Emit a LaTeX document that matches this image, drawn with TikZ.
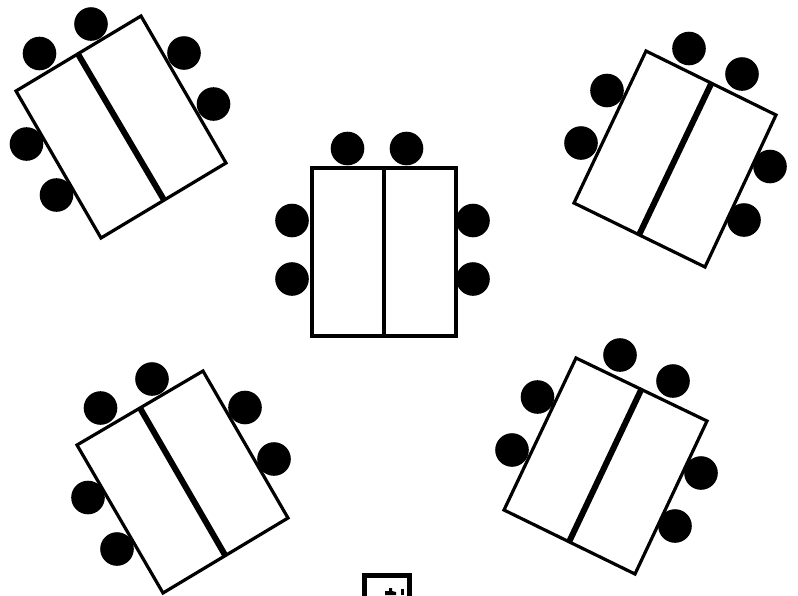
\documentclass[tikz,border=0pt]{standalone}
\tikzset{
  tbl/.style={draw=black,fill=white,line width=3.2pt,line join=miter},
  divthick/.style={draw=black,line width=6pt},
  divthin/.style={draw=black,line width=3.2pt},
  seat/.style={fill=black},
}
\begin{document}
\begin{tikzpicture}[x=1pt,y=-1pt]
\useasboundingbox (0,0) rectangle (798,595);
\clip (0,0) rectangle (798,595);
% seats
\foreach \p in {(39.5,53.5),(91,24),(184,53),(213.5,104),(26.5,144),(56.5,195),
  (347.5,148.5),(406.5,148.5),(292,220.5),(292,279),(473,220.5),(473,279),
  (689,48.5),(742,74),(607,90.5),(581,143),(770,166.5),(744,220),
  (100.5,408),(152,379),(245,407.5),(274,459),(88,497.5),(117,549),
  (620,355),(673,381),(537.5,397),(512,450),(701,473),(675,526)}
  \fill[seat] \p circle (16.8pt);
% tables
\draw[tbl] (16,91) -- (141,16) -- (226,163) -- (101,238) -- cycle;
\draw[divthick] (78,54) -- (164,200);
\draw[tbl] (312,168) rectangle (456,336);
\draw[divthin] (384,168) -- (384,336);
\draw[tbl] (646,51) -- (776,115) -- (705,267) -- (574,203) -- cycle;
\draw[divthick] (711,84) -- (639,235);
\draw[tbl] (77,445) -- (203,371) -- (288,518) -- (163,593) -- cycle;
\draw[divthick] (140,408) -- (225,555);
\draw[tbl] (576,358) -- (707,421) -- (635,574) -- (504,510) -- cycle;
\draw[divthick] (641,390) -- (569,542);
% bottom box
\draw[line width=5.5pt] (364.5,610) -- (364.5,575.5) -- (409.5,575.5) -- (409.5,610);
% glyph cropped by the lower edge
\fill (385,595) -- (385,591) -- (389,591) -- (389,588) -- (392,588) -- (392,591) -- (396,592) -- (396,595) -- cycle;
\fill (400.5,589) rectangle (403.5,595);
\end{tikzpicture}
\end{document}
